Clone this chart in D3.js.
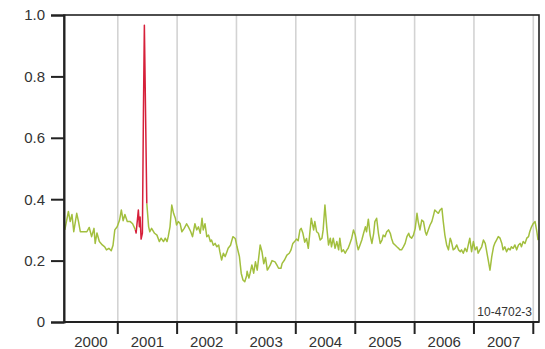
<!DOCTYPE html>
<html>
<head>
<meta charset="utf-8">
<script src="https://cdn.jsdelivr.net/npm/d3@7"></script>
<style>
  html, body { margin: 0; padding: 0; background: #fff; }
  svg { display: block; }
  text { font-family: "Liberation Sans", Arial, sans-serif; }
</style>
</head>
<body>
<svg id="chart" width="545" height="349"></svg>
<script>
// Index series: [decimal year, value]
const indexSeries = [
  [2000.11,.30],[2000.17,.36],[2000.20,.327],[2000.23,.35],[2000.26,.294],[2000.29,.33],[2000.31,.354],[2000.34,.327],
  [2000.37,.294],[2000.43,.294],[2000.48,.294],[2000.52,.308],[2000.56,.278],[2000.60,.305],[2000.62,.256],[2000.65,.29],
  [2000.69,.262],[2000.74,.251],[2000.78,.245],[2000.81,.235],[2000.85,.24],[2000.89,.232],[2000.92,.25],[2000.95,.30],
  [2000.99,.31],[2001.03,.332],[2001.06,.365],[2001.09,.33],[2001.12,.35],[2001.16,.327],[2001.21,.327],[2001.25,.32],
  [2001.297,.30],[2001.309,.29],[2001.347,.365],[2001.364,.31],[2001.376,.342],[2001.393,.27],[2001.415,.29],
  [2001.432,.68],[2001.448,.967],[2001.489,.386],
  [2001.52,.31],[2001.54,.294],[2001.57,.305],[2001.62,.289],[2001.66,.283],[2001.70,.262],[2001.73,.273],[2001.77,.262],
  [2001.80,.273],[2001.83,.262],[2001.85,.278],[2001.88,.31],[2001.91,.381],[2001.94,.354],[2001.97,.338],[2001.99,.316],
  [2002.02,.327],[2002.05,.321],[2002.08,.294],[2002.12,.305],[2002.16,.32],[2002.19,.31],[2002.23,.294],[2002.26,.278],
  [2002.30,.32],[2002.33,.30],[2002.36,.31],[2002.39,.289],[2002.42,.338],[2002.44,.30],[2002.47,.32],[2002.50,.278],
  [2002.53,.283],[2002.56,.262],[2002.58,.267],[2002.61,.25],[2002.64,.256],[2002.67,.245],[2002.70,.251],[2002.72,.229],
  [2002.75,.202],[2002.78,.224],[2002.81,.213],[2002.84,.229],[2002.86,.24],
  [2002.90,.25],[2002.94,.278],[2002.98,.272],[2003.01,.245],[2003.05,.213],[2003.08,.159],[2003.11,.137],[2003.14,.131],
  [2003.17,.15],[2003.18,.165],[2003.21,.143],[2003.23,.159],[2003.26,.186],[2003.29,.159],[2003.32,.196],[2003.35,.169],
  [2003.38,.218],[2003.40,.251],[2003.43,.229],[2003.46,.19],[2003.49,.21],[2003.52,.169],[2003.54,.175],[2003.57,.186],
  [2003.60,.20],[2003.65,.196],[2003.68,.186],[2003.71,.175],[2003.75,.175],[2003.77,.191],[2003.81,.202],[2003.85,.218],
  [2003.89,.224],[2003.92,.235],[2003.95,.256],[2003.98,.262],[2004.01,.27],[2004.04,.265],[2004.07,.30],[2004.09,.305],
  [2004.12,.289],[2004.15,.26],[2004.18,.272],[2004.21,.24],[2004.23,.278],[2004.26,.338],
  [2004.30,.30],[2004.32,.327],[2004.35,.294],[2004.38,.289],[2004.41,.267],[2004.44,.273],[2004.46,.30],[2004.49,.381],
  [2004.52,.31],[2004.55,.251],[2004.58,.273],[2004.60,.245],[2004.63,.273],[2004.66,.24],[2004.69,.262],[2004.72,.235],
  [2004.74,.273],[2004.77,.229],[2004.80,.235],[2004.83,.224],[2004.86,.235],[2004.88,.24],[2004.91,.256],[2004.94,.273],
  [2004.97,.30],[2005.00,.283],[2005.03,.251],[2005.05,.235],[2005.08,.251],[2005.11,.267],[2005.14,.289],[2005.17,.31],
  [2005.19,.294],[2005.22,.335],[2005.25,.283],[2005.28,.256],[2005.31,.289],[2005.33,.327],[2005.36,.338],[2005.39,.289],
  [2005.42,.256],[2005.45,.267],[2005.47,.283],[2005.50,.278],[2005.53,.294],[2005.56,.30],[2005.59,.289],[2005.61,.273],
  [2005.64,.256],[2005.67,.251],[2005.70,.245],[2005.73,.24],[2005.75,.235],[2005.78,.235],[2005.81,.245],[2005.84,.256],
  [2005.87,.278],[2005.90,.289],[2005.92,.278],[2005.95,.273],[2005.98,.283],[2006.01,.305],[2006.04,.354],[2006.06,.327],
  [2006.09,.30],[2006.12,.332],[2006.15,.327],[2006.18,.294],[2006.20,.283],[2006.23,.30],[2006.26,.316],[2006.29,.327],
  [2006.32,.349],[2006.34,.365],[2006.37,.359],[2006.40,.354],[2006.43,.365],[2006.46,.37],[2006.48,.332],[2006.51,.283],
  [2006.54,.251],[2006.57,.235],[2006.60,.273],[2006.62,.262],[2006.65,.235],[2006.68,.24],[2006.71,.251],[2006.74,.235],
  [2006.77,.229],[2006.79,.235],[2006.82,.224],[2006.85,.24],[2006.88,.229],[2006.91,.256],[2006.93,.273],[2006.96,.229],
  [2006.99,.262],[2007.02,.235],[2007.05,.245],[2007.07,.224],[2007.10,.235],[2007.13,.245],[2007.16,.267],[2007.19,.256],
  [2007.21,.235],[2007.24,.202],[2007.27,.169],[2007.30,.213],[2007.33,.245],[2007.35,.256],[2007.38,.267],[2007.41,.278],
  [2007.44,.273],[2007.47,.256],[2007.49,.235],[2007.52,.245],[2007.55,.229],[2007.58,.24],[2007.61,.235],[2007.63,.245],
  [2007.66,.24],[2007.69,.251],[2007.72,.235],[2007.75,.251],[2007.78,.256],[2007.80,.245],[2007.83,.262],[2007.86,.256],
  [2007.89,.273],[2007.92,.278],[2007.94,.294],[2007.97,.31],[2008.00,.321],[2008.03,.327],[2008.06,.294],[2008.08,.267]
];

// Period drawn in red
const spikeWindow = [2001.297, 2001.489];

const years = [2000, 2001, 2002, 2003, 2004, 2005, 2006, 2007];
const yearLabels = ["2000", "2001", "2002", "2003", "2004", "2005", "2006", "2007"];
const yTicks = [0, 0.2, 0.4, 0.6, 0.8, 1.0];
const timeSpan = [2000.096, 2008.096];
const figureId = "10-4702-3";

const W = 545, H = 349;
const margin = { top: 15, right: 6, bottom: 27, left: 64 };
const innerW = W - margin.left - margin.right;
const innerH = H - margin.top - margin.bottom;

function yearToDate(y) {
  const yr = Math.floor(y);
  const a = new Date(yr, 0, 1), b = new Date(yr + 1, 0, 1);
  return new Date(+a + (y - yr) * (b - a));
}

const x = d3.scaleTime()
  .domain(timeSpan.map(yearToDate))
  .range([0, innerW]);
const y = d3.scaleLinear().domain([0, 1]).range([innerH, 0]);

const svg = d3.select("#chart");
const g = svg.append("g").attr("transform", `translate(${margin.left},${margin.top})`);

svg.append("defs").append("clipPath").attr("id", "plot-clip")
  .append("rect").attr("width", innerW).attr("height", innerH);

// Year boundary gridlines
const boundaries = years.slice(1).concat([2008]).map(yr => new Date(yr, 0, 1))
  .filter(d => x(d) > 0 && x(d) <= innerW);
g.append("g").selectAll("line").data(boundaries).join("line")
  .attr("x1", d => x(d)).attr("x2", d => x(d))
  .attr("y1", 0).attr("y2", innerH)
  .attr("stroke", "#d3d3d3").attr("stroke-width", 1.6);

// Base series (green), broken where the red period is drawn
const line = d3.line()
  .x(d => x(yearToDate(d[0])))
  .y(d => y(d[1]))
  .defined(d => d[0] <= spikeWindow[0] || d[0] >= spikeWindow[1]);

const plot = g.append("g").attr("clip-path", "url(#plot-clip)");
plot.append("path").datum(indexSeries)
  .attr("d", line)
  .attr("fill", "none").attr("stroke", "#a2bf3e")
  .attr("stroke-width", 1.5).attr("stroke-linejoin", "round");

const spikeLine = d3.line()
  .x(d => x(yearToDate(d[0])))
  .y(d => y(d[1]));
plot.append("path")
  .datum(indexSeries.filter(d => d[0] >= spikeWindow[0] && d[0] <= spikeWindow[1]))
  .attr("d", spikeLine)
  .attr("fill", "none").attr("stroke", "#d6203a")
  .attr("stroke-width", 1.5).attr("stroke-linejoin", "round");

// Frame
g.append("rect").attr("width", innerW).attr("height", innerH)
  .attr("fill", "none").attr("stroke", "#222").attr("stroke-width", 1.6);

// Y axis
const yAxis = g.append("g")
  .call(d3.axisLeft(y).tickValues(yTicks).tickSize(13).tickPadding(6)
    .tickFormat(d => d === 0 ? "0" : d3.format(".1f")(d)));
yAxis.select(".domain").attr("stroke", "#222").attr("stroke-width", 2);
yAxis.selectAll(".tick line").attr("stroke", "#222").attr("stroke-width", 2);
yAxis.selectAll(".tick text").attr("font-size", 15).attr("fill", "#333")
  .attr("font-family", "'Liberation Sans', Arial, sans-serif");

// X axis: ticks at year boundaries, labels centred in each year
const xAxis = g.append("g").attr("transform", `translate(0,${innerH})`);
xAxis.append("line").attr("x1", 0).attr("x2", innerW)
  .attr("stroke", "#222").attr("stroke-width", 2);
xAxis.selectAll(".yt").data(boundaries).join("line")
  .attr("class", "yt")
  .attr("x1", d => x(d)).attr("x2", d => x(d))
  .attr("y1", 0).attr("y2", 12)
  .attr("stroke", "#222").attr("stroke-width", 2);
xAxis.selectAll(".yl").data(years).join("text")
  .attr("class", "yl")
  .attr("x", (yr) => {
    const a = Math.max(0, x(new Date(yr, 0, 1)));
    const b = Math.min(innerW, x(new Date(yr + 1, 0, 1)));
    return (a + b) / 2;
  })
  .attr("y", 24.5)
  .attr("text-anchor", "middle")
  .attr("font-size", 15).attr("fill", "#333")
  .text((yr, i) => yearLabels[i]);

// Figure identifier
g.append("text")
  .attr("x", innerW - 7).attr("y", innerH - 6)
  .attr("text-anchor", "end")
  .attr("font-size", 12).attr("fill", "#333")
  .text(figureId);
</script>
</body>
</html>
